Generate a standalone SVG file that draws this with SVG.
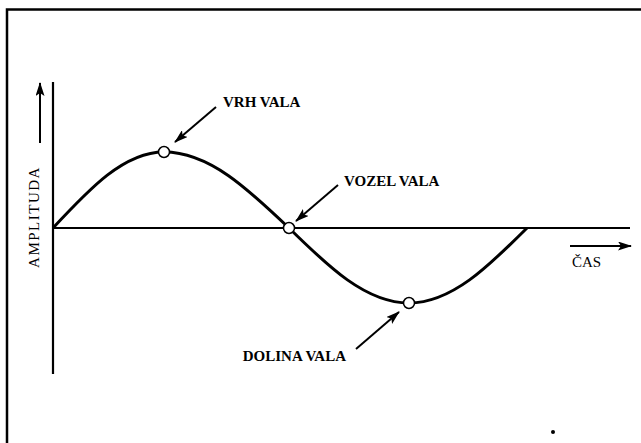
<svg xmlns="http://www.w3.org/2000/svg" width="641" height="443" viewBox="0 0 641 443">
<defs>
<marker id="ah" viewBox="0 0 14 9" refX="13" refY="4.5" markerWidth="14" markerHeight="9" markerUnits="userSpaceOnUse" orient="auto">
<path d="M0,0 L14,4.5 L0,9 L3,4.5 Z" fill="#000"/>
</marker>
</defs>
<style>
.lbl{font-family:"Liberation Serif","DejaVu Serif",serif;font-weight:bold;font-size:15px;fill:#000}
.ax{font-family:"Liberation Serif","DejaVu Serif",serif;font-size:15px;fill:#000}
.arr{stroke:#000;stroke-width:2;fill:none;marker-end:url(#ah)}
.mk{fill:#fff;stroke:#000;stroke-width:1.5}
</style>
<rect width="641" height="443" fill="#fff"/>
<g id="frame" stroke="#000" stroke-width="2.5" fill="none">
<path d="M7,443 V9.5 H641"/>
</g>
<g id="axes" stroke="#000" stroke-width="2.2" fill="none">
<line x1="53" y1="82" x2="53" y2="374"/>
<line x1="53" y1="228" x2="630" y2="228"/>
</g>
<g id="wave">
<path d="M53,228 C89.2,189.1 123.8,152 164,152 C209.2,152 248.2,189.1 289,228 C328.1,266.4 365.6,303 409,303 C451.7,303 488.5,266.4 527,228" stroke="#000" stroke-width="3" fill="none"/>
</g>
<g id="connectors">
<line class="arr" x1="40" y1="143" x2="40" y2="83"/>
<line class="arr" x1="570" y1="246" x2="631" y2="246"/>
<line class="arr" x1="216" y1="107" x2="175" y2="142"/>
<line class="arr" x1="338" y1="185" x2="296" y2="221"/>
<line class="arr" x1="356" y1="349" x2="399" y2="312"/>
</g>
<g id="crest">
<circle class="mk" cx="164" cy="152" r="5.5"/>
<text class="lbl" x="223" y="107">VRH VALA</text>
</g>
<g id="node">
<circle class="mk" cx="289" cy="228" r="5.5"/>
<text class="lbl" x="344" y="186">VOZEL VALA</text>
</g>
<g id="trough">
<circle class="mk" cx="409" cy="303" r="5.5"/>
<text class="lbl" x="346" y="361" text-anchor="end">DOLINA VALA</text>
</g>
<g id="amplitude">
<text class="ax" transform="translate(39,217) rotate(-90)" text-anchor="middle" letter-spacing="1.5">AMPLITUDA</text>
</g>
<g id="time">
<text class="ax" x="572" y="267">ČAS</text>
</g>
<circle cx="553" cy="432" r="2" fill="#000"/>
</svg>
